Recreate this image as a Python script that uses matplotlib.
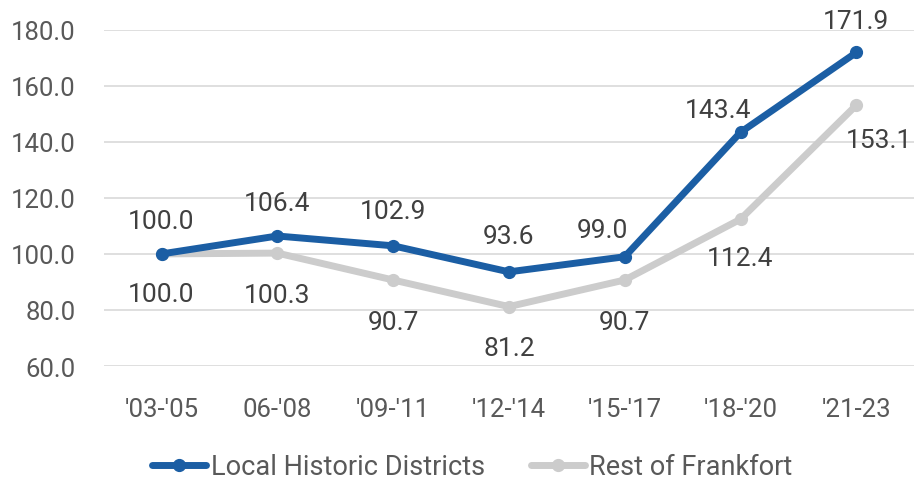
import matplotlib
matplotlib.use('Agg')
import matplotlib.pyplot as plt

plt.rcParams['font.family'] = ['Roboto', 'DejaVu Sans']

periods = ["'03-'05", "06-'08", "'09-'11", "'12-'14", "'15-'17", "'18-'20", "'21-23"]
historic = [100.0, 106.4, 102.9, 93.6, 99.0, 143.4, 171.9]
rest = [100.0, 100.3, 90.7, 81.2, 90.7, 112.4, 153.1]

# label offsets in points (dx, dy)
historic_offsets = [(0, 24), (0, 24), (0, 25), (0, 26), (-16, 19), (-16, 16), (0, 23)]
rest_offsets = [(0, -29), (0, -30), (0, -30), (0, -30), (0, -30), (0, -28), (16, -25)]

BLUE = '#1B5EA4'
GREY = '#CCCCCC'

fig = plt.figure(figsize=(9.17, 4.81), dpi=100)
ax = fig.add_axes([0.113, 0.237, 0.884, 0.699])

x = list(range(len(periods)))
ax.plot(x, historic, '-o', color=BLUE, linewidth=5, markersize=8.5,
        label='Local Historic Districts', zorder=4, solid_capstyle='round')
ax.plot(x, rest, '-o', color=GREY, linewidth=5, markersize=8.5,
        label='Rest of Frankfort', zorder=3, solid_capstyle='round')

for xi, v, (dx, dy) in zip(x, historic, historic_offsets):
    ax.annotate(f'{v:.1f}', (xi, v), xytext=(dx, dy), textcoords='offset points',
                ha='center', va='center', fontsize=19, color='#404040', annotation_clip=False)
for xi, v, (dx, dy) in zip(x, rest, rest_offsets):
    ax.annotate(f'{v:.1f}', (xi, v), xytext=(dx, dy), textcoords='offset points',
                ha='center', va='center', fontsize=19, color='#404040', annotation_clip=False)

ax.set_xlim(-0.5, len(periods) - 0.5)
ax.set_ylim(60, 180)
ax.set_yticks(range(60, 181, 20))
ax.set_yticklabels([f'{t:.1f}' for t in range(60, 181, 20)])
ax.set_xticks(x)
ax.set_xticklabels(periods)
ax.tick_params(axis='both', length=0, labelsize=18.5, labelcolor='#595959')
ax.tick_params(axis='x', pad=22)
ax.tick_params(axis='y', pad=20)
ax.grid(True, axis='y', color='#D9D9D9', linewidth=1.2)
ax.set_axisbelow(True)
for s in ax.spines.values():
    s.set_visible(False)

leg = fig.legend(loc='center', bbox_to_anchor=(0.515, 0.028), ncol=2, frameon=False,
                 fontsize=19.5, handlelength=2.0, handletextpad=0.15, columnspacing=1.7)
for t in leg.get_texts():
    t.set_color('#595959')

fig.savefig('out.png', dpi=100)
